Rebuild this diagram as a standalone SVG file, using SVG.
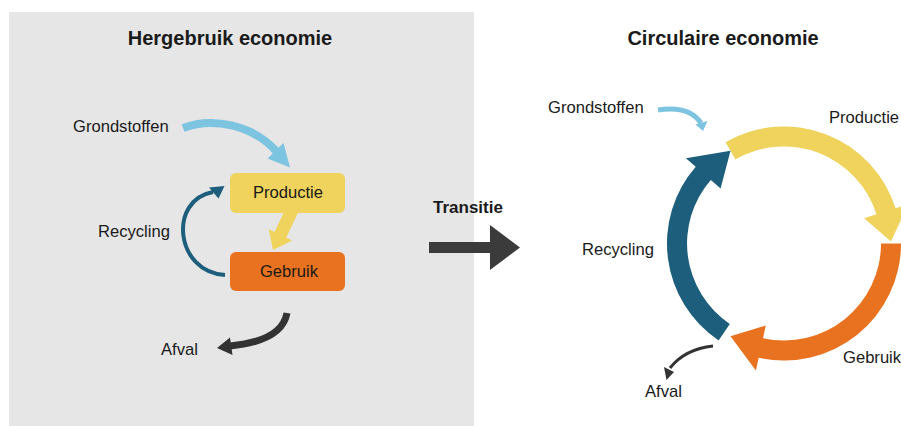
<svg xmlns="http://www.w3.org/2000/svg" width="901" height="426" viewBox="0 0 901 426">
  <style>
    text { font-family: "Liberation Sans", Arial, sans-serif; fill: #1a1a1a; }
    .title { font-size: 20px; font-weight: bold; text-anchor: middle; }
    .lbl { font-size: 16.6px; }
    .bold { font-weight: bold; }
    .mid { text-anchor: middle; }
    .yellow { fill: #efd35c; }
    .orange { fill: #e8721f; }
    .teal { fill: #1d5e7c; }
    .sky { fill: #7dc4e1; }
    .dark { fill: #333333; }
    .s-sky { fill: none; stroke: #7dc4e1; }
    .s-teal { fill: none; stroke: #1d5e7c; }
    .s-dark { fill: none; stroke: #333333; }
  </style>
  <rect width="901" height="426" fill="#ffffff"/>
  <rect id="panel-left" x="9" y="12" width="465" height="414" fill="#e6e6e6"/>

  <text class="title" x="230" y="45">Hergebruik economie</text>
  <text class="title" x="723" y="45">Circulaire economie</text>

  <g id="connectors">
    <!-- left: grondstoffen -> productie -->
    <path class="s-sky" stroke-width="8" d="M183,128 C212,117 252,124 277,152"/>
    <polygon class="sky" points="267.5,158.5 283.5,143 290,167.5"/>
    <!-- left: productie -> gebruik -->
    <polygon class="yellow" points="287.2,205.2 298.9,210.8 286.3,237.5 292.1,240.4 273,250 268.7,229 274.5,231.9"/>
    <!-- left: recycling -->
    <path class="s-teal" stroke-width="4" d="M225,275 C175,272 168,200 213,192"/>
    <polygon class="teal" points="224.5,186 218.5,198.5 209,187.5"/>
    <!-- left: afval -->
    <path class="s-dark" stroke-width="7" d="M287,313 Q282,341 230,346"/>
    <polygon class="dark" points="230,337.5 232.5,355 217,348"/>
    <!-- transition arrow -->
    <g id="transitie-arrow">
      <rect x="429" y="242" width="62" height="11" fill="#3b3b3b"/>
      <polygon points="490,225 520,247.5 490,270" fill="#3b3b3b"/>
    </g>
    <!-- right: grondstoffen -->
    <path class="s-sky" stroke-width="5" d="M658,110 Q689,105 701,123"/>
    <polygon class="sky" points="695.5,124.5 707.5,121 703,131"/>
    <!-- right: afval -->
    <path class="s-dark" stroke-width="3" d="M713,346 Q685,349 670,368"/>
    <polygon class="dark" points="664,367 674,372 666.5,380"/>
  </g>

  <g id="ring-productie">
    <path class="yellow" d="M725.5,142.2 A117,117 0 0 1 895.6,208.3 L908,204.4 L891,241.6 L864.1,218.2 L876.5,214.3 A97,97 0 0 0 735.5,159.5 Z"/>
  </g>
  <g id="ring-gebruik">
    <path class="orange" d="M901,243.5 A117,117 0 0 1 758.7,357.7 L755.9,370.4 L730.5,336.2 L765.8,325.5 L763,338.2 A97,97 0 0 0 881,243.5 Z"/>
  </g>
  <g id="ring-recycling">
    <path class="teal" d="M718.6,340.5 A117,117 0 0 1 695.7,166.7 L685.9,158.2 L730.5,150.8 L720.6,188.4 L710.8,179.9 A97,97 0 0 0 729.8,323.9 Z"/>
  </g>

  <g id="node-productie">
    <rect x="230" y="173" width="115" height="40" rx="6" class="yellow"/>
    <text class="lbl mid" x="288" y="197.5">Productie</text>
  </g>
  <g id="node-gebruik">
    <rect x="230" y="252" width="115" height="39" rx="6" class="orange"/>
    <text class="lbl mid" x="289" y="277">Gebruik</text>
  </g>
  <g id="label-grondstoffen-l"><text class="lbl" x="73" y="131.5">Grondstoffen</text></g>
  <g id="label-recycling-l"><text class="lbl" x="98" y="236.5">Recycling</text></g>
  <g id="label-afval-l"><text class="lbl" x="161" y="355">Afval</text></g>
  <g id="label-transitie"><text class="bold" font-size="17" x="433" y="213">Transitie</text></g>

  <g id="label-grondstoffen-r"><text class="lbl" x="548" y="113">Grondstoffen</text></g>
  <g id="label-productie-r"><text class="lbl" x="829" y="123">Productie</text></g>
  <g id="label-recycling-r"><text class="lbl" x="582" y="255">Recycling</text></g>
  <g id="label-gebruik-r"><text class="lbl" x="843" y="363">Gebruik</text></g>
  <g id="label-afval-r"><text class="lbl" x="645" y="397">Afval</text></g>
</svg>
